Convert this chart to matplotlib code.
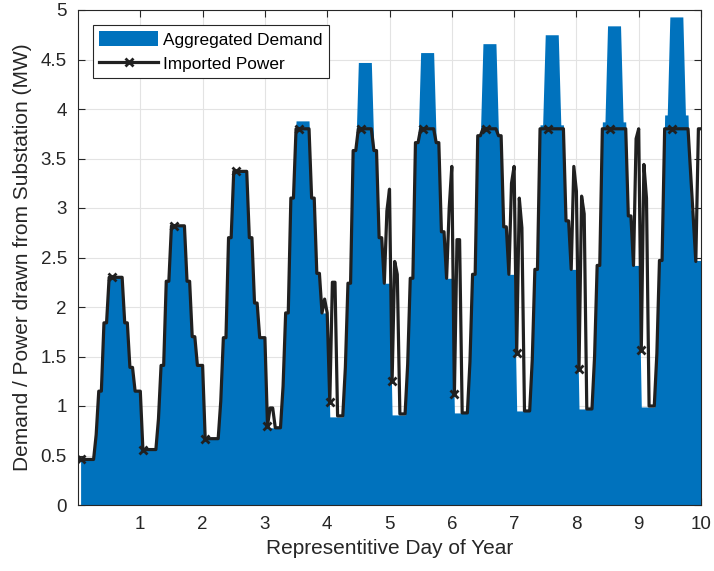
import numpy as np
import matplotlib.pyplot as plt

plt.rcParams['font.family'] = ['Liberation Sans', 'DejaVu Sans']

# hourly aggregated demand (MW), one row per representative day
demand_mw = np.array([
    [0.46, 0.46, 0.46, 0.46, 0.46, 0.46, 0.71, 1.15, 1.15, 1.84, 1.84, 2.30, 2.30, 2.30, 2.30, 2.30, 2.30, 1.84, 1.84, 1.39, 1.39, 1.15, 1.15, 1.15],
    [0.56, 0.56, 0.56, 0.56, 0.56, 0.56, 0.87, 1.41, 1.41, 2.26, 2.26, 2.82, 2.82, 2.82, 2.82, 2.82, 2.82, 2.26, 2.26, 1.70, 1.70, 1.41, 1.41, 1.41],
    [0.67, 0.67, 0.67, 0.67, 0.67, 0.67, 1.05, 1.69, 1.69, 2.70, 2.70, 3.37, 3.37, 3.37, 3.37, 3.37, 3.37, 2.70, 2.70, 2.04, 2.04, 1.69, 1.69, 1.69],
    [0.78, 0.78, 0.78, 0.78, 0.78, 0.78, 1.20, 1.94, 1.94, 3.10, 3.10, 3.88, 3.88, 3.88, 3.88, 3.88, 3.88, 3.10, 3.10, 2.34, 2.34, 1.94, 1.94, 1.94],
    [0.89, 0.89, 0.89, 0.89, 0.89, 0.89, 1.39, 2.24, 2.24, 3.58, 3.58, 4.47, 4.47, 4.47, 4.47, 4.47, 4.47, 3.58, 3.58, 2.70, 2.70, 2.24, 2.24, 2.24],
    [0.91, 0.91, 0.91, 0.91, 0.91, 0.91, 1.42, 2.29, 2.29, 3.66, 3.66, 4.57, 4.57, 4.57, 4.57, 4.57, 4.57, 3.66, 3.66, 2.76, 2.76, 2.29, 2.29, 2.29],
    [0.93, 0.93, 0.93, 0.93, 0.93, 0.93, 1.45, 2.33, 2.33, 3.73, 3.73, 4.66, 4.66, 4.66, 4.66, 4.66, 4.66, 3.73, 3.73, 2.81, 2.81, 2.33, 2.33, 2.33],
    [0.95, 0.95, 0.95, 0.95, 0.95, 0.95, 1.47, 2.38, 2.38, 3.84, 3.84, 4.75, 4.75, 4.75, 4.75, 4.75, 4.75, 3.84, 3.84, 2.87, 2.87, 2.38, 2.38, 2.38],
    [0.97, 0.97, 0.97, 0.97, 0.97, 0.97, 1.50, 2.42, 2.42, 3.87, 3.87, 4.84, 4.84, 4.84, 4.84, 4.84, 4.84, 3.87, 3.87, 2.92, 2.92, 2.42, 2.42, 2.42],
    [0.99, 0.99, 0.99, 0.99, 0.99, 0.99, 1.53, 2.47, 2.47, 3.94, 3.94, 4.93, 4.93, 4.93, 4.93, 4.93, 4.93, 3.94, 3.94, 2.98, 2.98, 2.47, 2.47, 2.47],
])

# hourly power imported from the substation (MW)
imported_mw = np.array([
    [0.46, 0.46, 0.46, 0.46, 0.46, 0.46, 0.71, 1.15, 1.15, 1.84, 1.84, 2.30, 2.30, 2.30, 2.30, 2.30, 2.30, 1.84, 1.84, 1.39, 1.39, 1.15, 1.15, 1.15],
    [0.56, 0.56, 0.56, 0.56, 0.56, 0.56, 0.87, 1.41, 1.41, 2.26, 2.26, 2.82, 2.82, 2.82, 2.82, 2.82, 2.82, 2.26, 2.26, 1.70, 1.70, 1.41, 1.41, 1.41],
    [0.67, 0.67, 0.67, 0.67, 0.67, 0.67, 1.05, 1.69, 1.69, 2.70, 2.70, 3.37, 3.37, 3.37, 3.37, 3.37, 3.37, 2.70, 2.70, 2.04, 2.04, 1.69, 1.69, 1.69],
    [0.80, 0.98, 0.98, 0.78, 0.78, 0.78, 1.20, 1.94, 1.94, 3.10, 3.10, 3.80, 3.80, 3.80, 3.80, 3.80, 3.80, 3.10, 3.10, 2.34, 2.34, 1.94, 2.08, 1.94],
    [1.04, 2.25, 2.25, 0.90, 0.90, 0.90, 1.39, 2.24, 2.24, 3.58, 3.58, 3.80, 3.80, 3.80, 3.80, 3.80, 3.80, 3.58, 3.58, 2.70, 2.70, 2.24, 2.97, 3.19],
    [1.25, 2.46, 2.33, 0.92, 0.92, 0.92, 1.42, 2.29, 2.29, 3.66, 3.66, 3.80, 3.80, 3.80, 3.80, 3.80, 3.80, 3.66, 3.66, 2.76, 2.76, 2.29, 3.00, 3.42],
    [1.12, 2.68, 2.68, 0.93, 0.93, 0.93, 1.45, 2.33, 2.33, 3.73, 3.73, 3.80, 3.80, 3.80, 3.80, 3.80, 3.80, 3.73, 3.73, 2.81, 2.81, 2.33, 3.25, 3.42],
    [1.54, 3.10, 2.80, 0.95, 0.95, 0.95, 1.47, 2.38, 2.38, 3.80, 3.80, 3.80, 3.80, 3.80, 3.80, 3.80, 3.80, 3.80, 3.80, 2.87, 2.87, 2.38, 3.42, 3.17],
    [1.37, 3.12, 2.94, 0.97, 0.97, 0.97, 1.50, 2.42, 2.42, 3.80, 3.80, 3.80, 3.80, 3.80, 3.80, 3.80, 3.80, 3.80, 3.80, 2.92, 2.92, 2.42, 3.70, 3.80],
    [1.57, 3.44, 3.10, 1.00, 1.00, 1.00, 1.53, 2.47, 2.47, 3.80, 3.80, 3.80, 3.80, 3.80, 3.80, 3.80, 3.80, 3.80, 3.80, 3.35, 2.91, 2.46, 3.80, 3.80],
])

day_ticks = [1, 2, 3, 4, 5, 6, 7, 8, 9, 10]
mw_ticks = [0, 0.5, 1, 1.5, 2, 2.5, 3, 3.5, 4, 4.5, 5]
mw_labels = ['0', '0.5', '1', '1.5', '2', '2.5', '3', '3.5', '4', '4.5', '5']

demand = demand_mw.ravel()
imported = imported_mw.ravel()
t = np.arange(1, demand.size + 1) / 24.0   # hours -> days

dark = '#262626'

fig = plt.figure(figsize=(7.14, 5.71), dpi=100)
ax = fig.add_axes([78 / 714, 1 - 505 / 571, 623 / 714, 495 / 571])

ax.fill_between(t, demand, 0, color='#0072BD', linewidth=0,
                label='Aggregated Demand')
ax.plot(t, imported, color='#202020', lw=2.3, marker='x', markevery=12,
        ms=6, mew=2, label='Imported Power')

ax.set_xlim(0, 10)
ax.set_ylim(0, 5)
ax.set_xticks(day_ticks)
ax.set_yticks(mw_ticks)
ax.set_yticklabels(mw_labels)
ax.set_axisbelow(True)
ax.grid(True, color='#e3e3e3', lw=0.8)
ax.tick_params(direction='in', length=5, width=0.8, colors=dark,
               labelsize=13.5, top=True, right=True, pad=8)
for s in ax.spines.values():
    s.set_color(dark)
    s.set_linewidth(0.8)

ax.set_xlabel('Representitive Day of Year', fontsize=15, color=dark, labelpad=4)
ax.set_ylabel('Demand / Power drawn from Substation (MW)', fontsize=15,
              color=dark, labelpad=6)

leg = ax.legend(loc='upper left', bbox_to_anchor=(0.0236, 0.970),
                borderaxespad=0, fontsize=12.4, fancybox=False,
                framealpha=1, edgecolor=dark, handlelength=3.4,
                handleheight=0.95, handletextpad=0.3, borderpad=0.38,
                labelspacing=0.45)
leg.get_frame().set_linewidth(0.8)
for txt in leg.get_texts():
    txt.set_color('black')

fig.savefig('out.png', dpi=100)
